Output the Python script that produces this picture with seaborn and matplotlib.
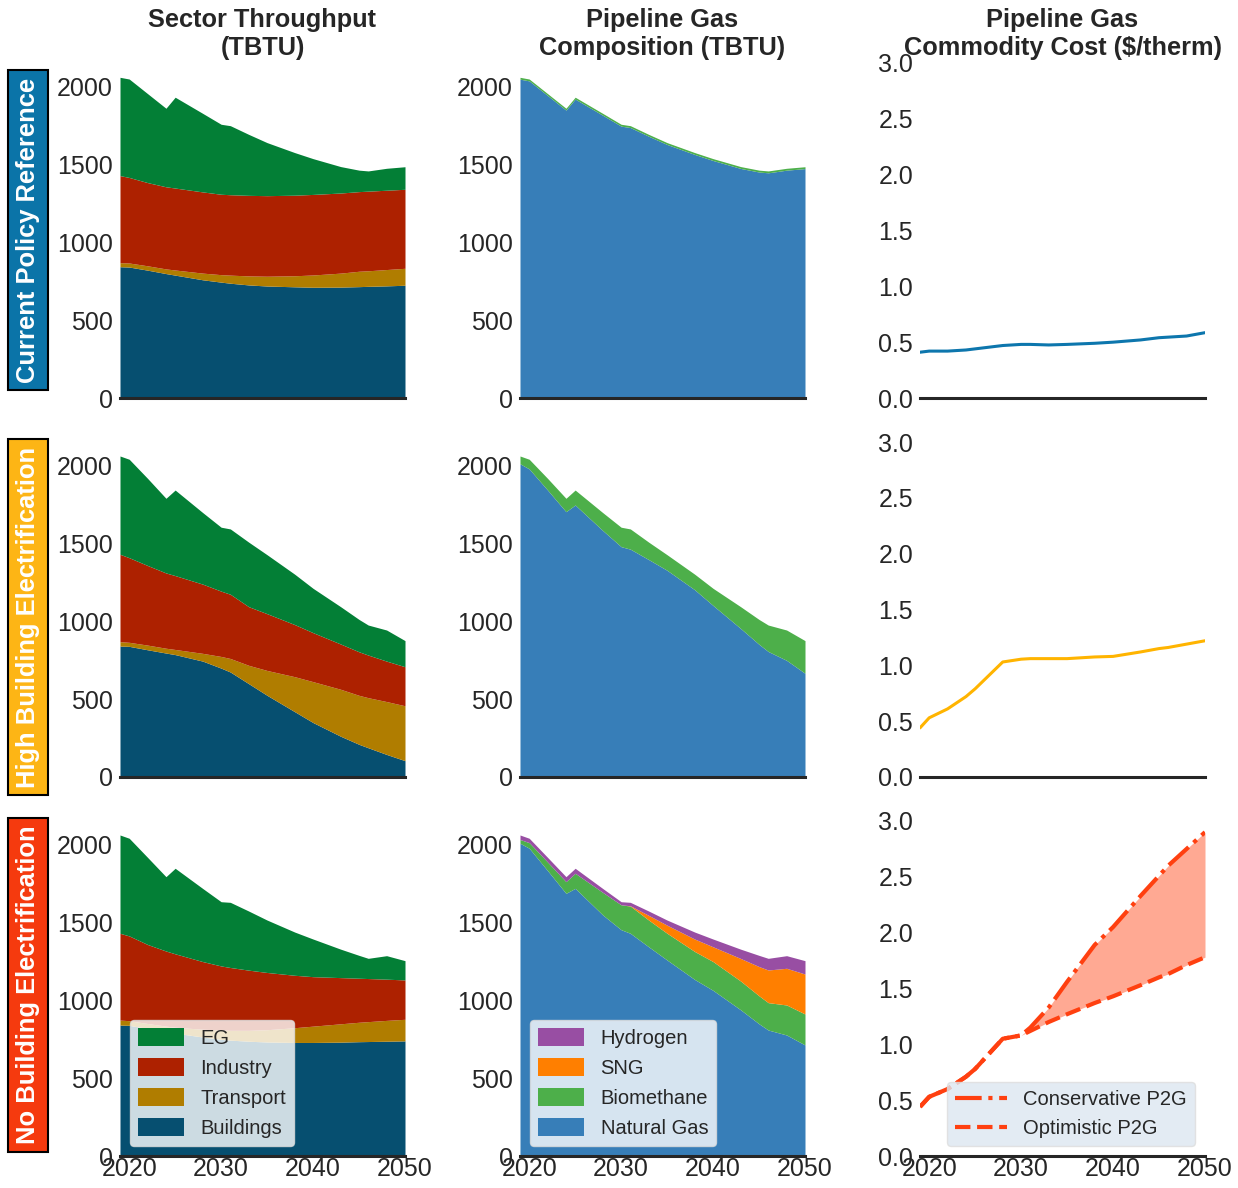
import matplotlib
matplotlib.use("Agg")
import matplotlib.pyplot as plt
import seaborn as sns

# ---------------- data ----------------
years = [2019, 2020, 2022, 2024, 2025, 2028, 2030, 2031, 2033, 2035, 2038, 2040, 2043, 2045, 2046, 2048, 2050]

sector_names = ["Buildings", "Transport", "Industry", "EG"]
comp_names = ["Natural Gas", "Biomethane", "SNG", "Hydrogen"]

# Current Policy Reference
cp_buildings = [844, 842, 822, 800, 790, 760, 745, 738, 727, 720, 715, 712, 713, 716, 718, 721, 725]
cp_transport = [26, 26, 28, 30, 33, 43, 48, 52, 58, 63, 71, 79, 90, 99, 100, 105, 109]
cp_industry = [560, 550, 535, 528, 527, 522, 517, 517, 518, 518, 518, 518, 515, 512, 512, 510, 508]
cp_eg = [632, 633, 572, 505, 584, 505, 450, 444, 392, 341, 274, 230, 170, 138, 130, 141, 145]
cp_ng = [2050, 2039, 1945, 1851, 1922, 1818, 1748, 1739, 1683, 1630, 1566, 1527, 1476, 1453, 1448, 1465, 1475]
cp_bio = [12, 12, 12, 12, 12, 12, 12, 12, 12, 12, 12, 12, 12, 12, 12, 12, 12]
cp_sng = [0, 0, 0, 0, 0, 0, 0, 0, 0, 0, 0, 0, 0, 0, 0, 0, 0]
cp_h2 = [0, 0, 0, 0, 0, 0, 0, 0, 0, 0, 0, 0, 0, 0, 0, 0, 0]
cp_cost = [0.41, 0.42, 0.42, 0.43, 0.44, 0.47, 0.48, 0.48, 0.475, 0.48, 0.49, 0.50, 0.52, 0.54, 0.545, 0.555, 0.585]

# High Building Electrification
hbe_buildings = [842, 840, 818, 797, 787, 745, 700, 675, 600, 525, 420, 350, 262, 210, 188, 145, 105]
hbe_transport = [28, 26, 30, 31, 33, 50, 75, 87, 118, 160, 225, 263, 302, 315, 322, 340, 353]
hbe_industry = [562, 544, 512, 484, 475, 445, 420, 413, 377, 365, 335, 315, 291, 280, 274, 260, 251]
hbe_eg = [632, 633, 560, 480, 550, 460, 411, 420, 415, 379, 324, 285, 240, 208, 193, 200, 168]
hbe_ng = [2014, 1981, 1845, 1706, 1749, 1585, 1481, 1465, 1398, 1329, 1204, 1103, 955, 853, 807, 750, 667]
hbe_bio = [50, 62, 75, 86, 96, 115, 125, 130, 112, 100, 100, 110, 140, 160, 170, 195, 210]
hbe_sng = [0, 0, 0, 0, 0, 0, 0, 0, 0, 0, 0, 0, 0, 0, 0, 0, 0]
hbe_h2 = [0, 0, 0, 0, 0, 0, 0, 0, 0, 0, 0, 0, 0, 0, 0, 0, 0]
hbe_cost = [0.44, 0.53, 0.61, 0.72, 0.79, 1.03, 1.055, 1.06, 1.06, 1.06, 1.075, 1.08, 1.12, 1.15, 1.16, 1.19, 1.22]

# No Building Electrification
nbe_buildings = [842, 840, 820, 800, 790, 765, 750, 745, 738, 733, 730, 730, 732, 735, 736, 738, 740]
nbe_transport = [32, 30, 32, 35, 38, 50, 60, 63, 70, 79, 95, 105, 118, 125, 128, 134, 139]
nbe_industry = [558, 545, 508, 483, 472, 435, 412, 404, 387, 368, 337, 318, 297, 283, 277, 265, 253]
nbe_eg = [632, 628, 560, 478, 550, 470, 413, 419, 380, 337, 278, 242, 183, 147, 130, 151, 124]
nbe_ng = [2011, 1979, 1835, 1689, 1721, 1550, 1455, 1432, 1345, 1260, 1135, 1065, 940, 850, 810, 778, 714]
nbe_bio = [24, 36, 55, 75, 97, 145, 160, 175, 172, 172, 180, 185, 185, 180, 176, 193, 199]
nbe_sng = [0, 0, 0, 0, 0, 0, 0, 2, 30, 52, 80, 95, 145, 188, 210, 236, 257]
nbe_h2 = [29, 28, 30, 32, 32, 25, 20, 22, 28, 33, 45, 50, 60, 72, 75, 81, 86]
nbe_cost_conservative = [0.44, 0.53, 0.60, 0.71, 0.78, 1.05, 1.08, 1.15, 1.33, 1.56, 1.89, 2.05, 2.33, 2.51, 2.60, 2.75, 2.90]
nbe_cost_optimistic = [0.44, 0.53, 0.60, 0.71, 0.78, 1.05, 1.08, 1.12, 1.20, 1.27, 1.37, 1.43, 1.53, 1.60, 1.63, 1.71, 1.78]

row_labels = ["Current Policy Reference", "High Building Electrification", "No Building Electrification"]
col_titles = ["Sector Throughput\n(TBTU)", "Pipeline Gas\nComposition (TBTU)", "Pipeline Gas\nCommodity Cost ($/therm)"]
x_ticks = [2020, 2030, 2040, 2050]
tbtu_ticks = [0, 500, 1000, 1500, 2000]
cost_ticks = [0.0, 0.5, 1.0, 1.5, 2.0, 2.5, 3.0]

# ---------------- style ----------------
sector_colors = ["#064f70", "#b07d00", "#ad2100", "#037f36"]
comp_colors = ["#377eb8", "#4daf4a", "#ff7f00", "#984ea3"]
row_colors = ["#0b74a8", "#fdb515", "#f53a0e"]
cost_colors = ["#0d76ad", "#ffb400", "#ff4010"]
TXT = "#262626"

sns.set_theme(style="white")
plt.rcParams['font.family'] = ['Liberation Sans', 'DejaVu Sans']

W, H = 1238, 1188
fig = plt.figure(figsize=(W / 100, H / 100), dpi=100)

col_left = [120, 520, 920]
row_bottom = [398, 777, 1156]
ax_w, ax_h = 285, 335

sectors = [
    [cp_buildings, cp_transport, cp_industry, cp_eg],
    [hbe_buildings, hbe_transport, hbe_industry, hbe_eg],
    [nbe_buildings, nbe_transport, nbe_industry, nbe_eg],
]
comps = [
    [cp_ng, cp_bio, cp_sng, cp_h2],
    [hbe_ng, hbe_bio, hbe_sng, hbe_h2],
    [nbe_ng, nbe_bio, nbe_sng, nbe_h2],
]
label_centers = [230, 617, 985]

for r in range(3):
    axes = []
    for c in range(3):
        ax = fig.add_axes([col_left[c] / W, 1 - row_bottom[r] / H, ax_w / W, ax_h / H])
        axes.append(ax)
        ax.set_xlim(2019, 2050)
        ax.set_xticks(x_ticks)
        sns.despine(ax=ax, left=True)
        ax.spines['bottom'].set_color(TXT)
        ax.spines['bottom'].set_linewidth(2.2)
        ax.tick_params(axis='both', length=0, labelsize=18, colors=TXT)
        ax.tick_params(axis='y', pad=5)
        ax.tick_params(axis='x', pad=1)
        if r < 2:
            ax.tick_params(labelbottom=False)
        if r == 0:
            ax.set_title(col_titles[c], fontsize=18.3, fontweight='bold', color=TXT, pad=6, linespacing=1.2)

    # sector throughput
    ax = axes[0]
    ax.stackplot(years, *sectors[r], labels=sector_names, colors=sector_colors, linewidth=0)
    ax.set_ylim(0, 2154)
    ax.set_yticks(tbtu_ticks)
    if r == 2:
        h, l = ax.get_legend_handles_labels()
        leg = ax.legend(h[::-1], l[::-1], loc='lower left', fontsize=14.5, frameon=True,
                        handlelength=2.3, handleheight=1.0, framealpha=0.8)
        leg.get_frame().set_edgecolor('#dddddd')

    # composition
    ax = axes[1]
    ax.stackplot(years, *comps[r], labels=comp_names, colors=comp_colors, linewidth=0)
    ax.set_ylim(0, 2154)
    ax.set_yticks(tbtu_ticks)
    if r == 2:
        h, l = ax.get_legend_handles_labels()
        leg = ax.legend(h[::-1], l[::-1], loc='lower left', fontsize=14.5, frameon=True,
                        handlelength=2.3, handleheight=1.0, framealpha=0.8)
        leg.get_frame().set_edgecolor('#dddddd')

    # cost
    ax = axes[2]
    if r < 2:
        cost = cp_cost if r == 0 else hbe_cost
        sns.lineplot(x=years, y=cost, ax=ax, color=cost_colors[r], linewidth=2.2)
    else:
        ax.fill_between(years, nbe_cost_optimistic, nbe_cost_conservative,
                        color=cost_colors[2], alpha=0.45, linewidth=0)
        sns.lineplot(x=years, y=nbe_cost_conservative, ax=ax, color=cost_colors[2],
                     linewidth=3, linestyle='-.', label='Conservative P2G')
        sns.lineplot(x=years, y=nbe_cost_optimistic, ax=ax, color=cost_colors[2],
                     linewidth=3, linestyle='--', label='Optimistic P2G')
        leg = ax.legend(loc='lower right', fontsize=14.5, frameon=True, handlelength=2.6,
                        framealpha=0.8)
        leg.get_frame().set_facecolor('#dce6f0')
        leg.get_frame().set_edgecolor('#dddddd')
    ax.set_ylim(0, 3.0)
    ax.set_yticks(cost_ticks)
    ax.set_yticklabels([f"{t:.1f}" for t in cost_ticks])
    ax.set_xlim(2019, 2050)

    fig.text(28 / W, 1 - label_centers[r] / H, row_labels[r], rotation=90, ha='center', va='center',
             color='white', fontsize=18.4, fontweight='bold',
             bbox=dict(boxstyle='square,pad=0.3', fc=row_colors[r], ec='black', lw=1.5))

fig.savefig("out.png", dpi=100)
